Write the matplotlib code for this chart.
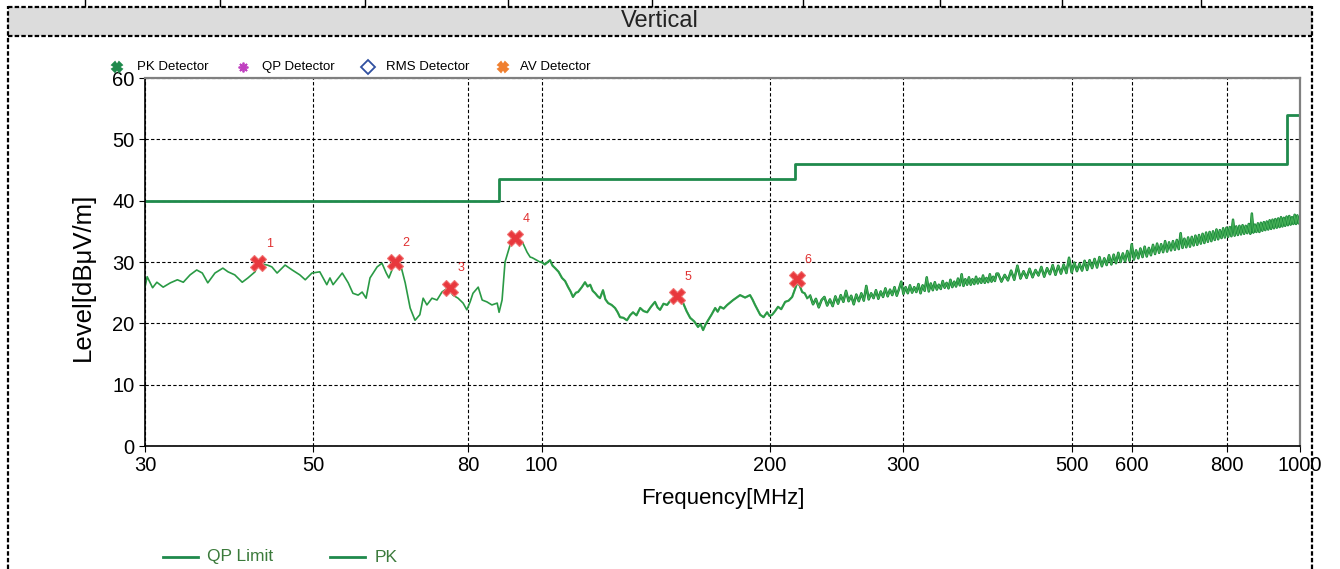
import numpy as np
import matplotlib.pyplot as plt
from matplotlib.lines import Line2D
from matplotlib.patches import Rectangle

plt.rcParams['font.family'] = ['Liberation Sans', 'DejaVu Sans']

# QP limit line (MHz, dBuV/m)
limit_freq = [30, 88, 88, 216, 216, 960, 960, 1000]
limit_level = [40, 40, 43.5, 43.5, 46, 46, 54, 54]

# PK trace, 30-100 MHz
low_freq = [30.0, 30.2, 30.7, 31.1, 31.7, 32.4, 33.1, 33.7, 34.4, 35.1,
            35.7, 36.3, 37.1, 38.0, 38.6, 39.4, 40.3, 41.0, 41.9, 42.3,
            43.5, 44.1, 44.8, 45.9, 46.9, 48.0, 48.8, 49.8, 51.0, 52.1,
            52.6, 53.1, 54.6, 55.6, 56.4, 57.3, 58.0, 58.7, 59.4, 60.7,
            61.6, 62.4, 62.9, 64.1, 65.1, 66.1, 67.1, 68.1, 69.1, 69.8,
            70.6, 71.7, 72.8, 73.9, 75.3, 76.4, 77.6, 78.8, 79.7, 80.5,
            81.2, 82.5, 83.5, 84.7, 86.0, 87.4, 87.9, 88.7, 89.5, 90.9,
            92.8, 94.3, 95.7, 96.6, 97.2, 99.5]
low_level = [25.9, 27.6, 25.8, 26.7, 25.9, 26.6, 27.1, 26.7, 27.9, 28.7,
             28.2, 26.6, 28.2, 29.0, 28.4, 27.9, 26.7, 27.4, 28.4, 29.8,
             29.5, 29.2, 28.2, 29.5, 28.7, 27.9, 27.1, 28.2, 28.4, 26.3,
             27.4, 26.3, 28.2, 26.6, 24.9, 24.6, 25.1, 24.1, 27.4, 29.2,
             29.8, 28.2, 27.4, 30.0, 29.8, 26.6, 22.5, 20.5, 21.4, 24.1,
             23.0, 24.1, 23.8, 25.1, 25.8, 24.6, 24.1, 23.3, 22.2, 23.5,
             24.9, 25.9, 23.8, 23.5, 23.0, 23.3, 21.8, 23.8, 30.0, 32.8,
             33.9, 33.3, 31.6, 30.8, 30.7, 30.0]

# 100-224 MHz
mid_freq = [100, 101, 102.6, 103.4, 104.2, 105.3, 106.4, 107.4, 108.4, 109.2,
            110, 111, 111.7, 113, 114.1, 115, 115.9, 116.8, 117.7, 118.6,
            119.4, 120.5, 121.4, 122.4, 123.7, 125, 126, 126.9, 128.2, 129.6,
            130.8, 132, 133.4, 134.9, 136.3, 137.8, 139.4, 141.1, 142.2, 143.3,
            144.8, 146.4, 147.8, 149.1, 150.9, 152.5, 153.7, 155.3, 157, 159,
            160.8, 162, 163.3, 164.5, 165.8, 167.5, 169.4, 170.7, 172, 173.8,
            175.7, 177.3, 178.9, 180.8, 182.7, 185.5, 188.3, 189.7, 191.2, 192.7,
            194.2, 196.2, 198.3, 199.8, 201.4, 203.2, 205, 207, 209.5, 211.7,
            214, 215.6, 217.3, 218.9, 220.6, 222.3, 224]
mid_level = [30.0, 29.6, 30.3, 29.4, 29.0, 28.4, 27.4, 26.9, 25.9, 25.2,
             24.3, 25.0, 25.1, 25.9, 26.7, 26.0, 26.3, 25.3, 24.9, 24.4,
             24.1, 25.4, 23.9, 23.3, 23.0, 22.5, 21.8, 21.0, 20.9, 20.5,
             21.3, 21.8, 21.3, 22.5, 22.0, 21.8, 22.7, 23.5, 22.6, 22.2,
             23.2, 23.0, 23.7, 23.8, 24.3, 24.0, 23.3, 22.0, 20.9, 20.3,
             19.4, 19.9, 18.9, 19.8, 20.5, 21.4, 22.5, 21.9, 22.7, 22.4,
             23.0, 23.4, 23.8, 24.2, 24.6, 24.2, 24.6, 23.9, 23.0, 22.2,
             21.4, 21.0, 21.8, 21.2, 21.4, 22.0, 22.7, 22.3, 23.5, 23.7,
             24.3, 25.4, 26.6, 26.2, 25.1, 24.9, 24.1]

# 226-398 MHz, every 2 MHz
hi1_freq = list(range(226, 399, 2))
hi1_level = [24.5, 23.1, 24.0, 22.6, 23.8, 24.3, 22.9, 23.9, 22.8, 24.4,
             23.2, 24.6, 23.5, 25.3, 23.6, 24.5, 23.1, 24.7, 23.6, 24.9,
             23.7, 26.1, 23.9, 24.9, 24.1, 25.4, 24.0, 25.2, 24.3, 25.7,
             24.4, 25.5, 24.6, 25.9, 24.5, 25.6, 26.8, 24.8, 25.9, 24.9,
             26.2, 25.0, 25.9, 25.1, 26.4, 24.9, 26.2, 25.3, 27.5, 25.2,
             26.5, 25.4, 26.7, 25.5, 26.3, 25.6, 26.9, 25.8, 26.6, 25.7,
             27.1, 25.9, 26.8, 26.0, 27.3, 26.2, 28.0, 26.1, 27.2, 26.3,
             27.5, 26.3, 27.2, 26.4, 27.6, 26.5, 27.3, 26.6, 27.8, 26.6,
             27.4, 26.7, 28.0, 26.8, 27.6, 26.9, 28.1]

# 400-1000 MHz, every 4 MHz
hi2_freq = list(range(400, 1001, 4))
hi2_level = [28.1, 26.8, 27.9, 27.0, 28.6, 27.1, 29.4, 27.3, 28.5, 27.4,
             28.9, 27.5, 28.7, 27.8, 29.2, 27.6, 29.0, 28.0, 29.5, 27.9,
             29.4, 28.1, 29.6, 28.2, 30.7, 28.3, 29.9, 28.5, 29.7, 28.6,
             30.2, 28.7, 30.3, 29.0, 30.5, 29.1, 30.8, 29.3, 30.6, 29.5,
             31.1, 29.6, 31.2, 29.8, 31.5, 30.0, 31.4, 30.1, 31.8, 30.2,
             32.9, 30.4, 31.9, 30.6, 32.2, 30.8, 32.5, 30.9, 32.3, 31.1,
             32.8, 31.3, 33.0, 31.5, 32.9, 31.6, 33.4, 31.7, 33.2, 31.9,
             33.4, 32.0, 33.6, 32.1, 34.7, 32.3, 33.8, 32.4, 34.0, 32.5,
             34.1, 32.7, 34.3, 32.8, 34.4, 33.0, 34.6, 33.1, 34.8, 33.3,
             34.9, 33.4, 35.0, 33.6, 35.3, 33.7, 35.2, 33.9, 35.5, 34.0,
             35.6, 34.1, 35.7, 34.2, 36.9, 34.3, 35.8, 34.4, 35.9, 34.5,
             36.0, 34.6, 35.9, 34.7, 36.2, 34.6, 37.9, 34.8, 36.1, 34.9,
             36.3, 34.9, 36.4, 35.1, 36.5, 35.2, 36.6, 35.3, 36.8, 35.4,
             36.9, 35.5, 37.0, 35.6, 37.1, 35.7, 37.3, 35.8, 37.2, 35.9,
             37.4, 36.0, 37.5, 36.1, 37.3, 36.2, 37.7, 36.2, 37.6, 36.3,
             37.3]

# peak markers
mk_freq = [42.3, 64.1, 75.8, 92.2, 150.9, 217.3]
mk_level = [29.8, 30.0, 25.8, 33.9, 24.4, 27.2]
mk_label = ['1', '2', '3', '4', '5', '6']

x_ticks = [30, 50, 80, 100, 200, 300, 500, 600, 800, 1000]
y_ticks = [0, 10, 20, 30, 40, 50, 60]

pk_freq = np.concatenate([low_freq, mid_freq, hi1_freq, hi2_freq])
pk_level = np.concatenate([low_level, mid_level, hi1_level, hi2_level])
hi_freq = np.concatenate([hi1_freq, hi2_freq])
hi_level = np.concatenate([hi1_level, hi2_level])

W, H = 1340, 569
fig = plt.figure(figsize=(W / 100, H / 100), dpi=100)
ax = fig.add_axes([145 / W, 1 - 446 / H, 1155 / W, 368 / H])

lim_color = '#1f8a4c'
pk_color = '#2a9a45'

ax.plot(limit_freq, limit_level, color=lim_color, lw=2)
ax.plot(mid_freq, mid_level, color=pk_color, lw=1.6, alpha=0.8)
ax.plot(pk_freq, pk_level, color=pk_color, lw=1.2)
ax.plot(hi_freq, hi_level, color='#1e8c3c', lw=1.8)
ax.plot(hi_freq, hi_level, color='#4cb45c', lw=0.6)
ax.plot(mk_freq, mk_level, 'X', color='#e8383d', mec='#f07070', mew=0.8, ms=11, zorder=5)
for f, l, t in zip(mk_freq, mk_level, mk_label):
    ax.annotate(t, (f, l), xytext=(8, 14), textcoords='offset points',
                color='#e03030', fontsize=9, ha='center', va='center')

ax.set_xscale('log')
ax.set_xlim(30, 1000)
ax.set_ylim(0, 60)
ax.set_xticks(x_ticks)
ax.set_xticklabels([str(t) for t in x_ticks])
ax.xaxis.set_minor_locator(plt.NullLocator())
ax.set_yticks(y_ticks)
ax.tick_params(labelsize=14.5, length=4, width=0.8)
ax.grid(True, color='black', ls=(0, (3, 2)), lw=0.8)
for s in ['left', 'bottom']:
    ax.spines[s].set_color('black')
    ax.spines[s].set_linewidth(1.2)
for s in ['top', 'right']:
    ax.spines[s].set_color('#808080')
    ax.spines[s].set_linewidth(1.6)
ax.set_xlabel('Frequency[MHz]', fontsize=16, labelpad=9)
ax.set_ylabel('Level[dBμV/m]', fontsize=18.5)
ax.yaxis.set_label_coords(-0.043, 0.46)

# title band and dashed frame
fig.add_artist(Rectangle((8 / W, 1 - 36 / H), 1304 / W, 29 / H,
                         transform=fig.transFigure, facecolor='#dcdcdc', edgecolor='none'))
fig.text(660 / W, 1 - 21 / H, 'Vertical', fontsize=17, ha='center', va='center',
         color='#222222')
dash = dict(transform=fig.transFigure, color='black', lw=1.6, ls=(0, (2, 1)))
fig.add_artist(Line2D([8 / W, 1312 / W], [1 - 7 / H] * 2, **dash))
fig.add_artist(Line2D([8 / W, 1312 / W], [1 - 36 / H] * 2, **dash))
fig.add_artist(Line2D([8 / W] * 2, [0, 1 - 6 / H], **dash))
fig.add_artist(Line2D([1312 / W] * 2, [0, 1 - 6 / H], **dash))
for xs in [85, 220, 365, 508, 652, 803, 940, 1062, 1201]:
    fig.add_artist(Line2D([xs / W] * 2, [1 - 6 / H, 1], transform=fig.transFigure,
                          color='black', lw=1))

# detector legend on top
det = [('PK Detector', 'X', '#1f8a4c', '#1f8a4c', 117, 137),
       ('QP Detector', (8, 2, 0), '#c040c0', '#c040c0', 243, 262),
       ('RMS Detector', 'D', 'white', '#3050a0', 368, 386),
       ('AV Detector', 'X', '#f08030', '#f08030', 503, 520)]
ty = 1 - 67 / H
for name, m, fc, ec, mx, tx in det:
    fig.add_artist(Line2D([mx / W], [ty], transform=fig.transFigure, marker=m, ms=7,
                          mfc=fc, mec=ec, mew=1.3, ls='none'))
    fig.text(tx / W, ty, name, fontsize=9.5, va='center', ha='left')

# line legend at the bottom
by = 1 - 557 / H
for name, x0, tx in [('QP Limit', 163, 207), ('PK', 330, 375)]:
    fig.add_artist(Line2D([x0 / W, (x0 + 35) / W], [by] * 2, transform=fig.transFigure,
                          color=lim_color, lw=2))
    fig.text(tx / W, by, name, fontsize=12.5, va='center', ha='left', color='#3b7a3b')

fig.savefig('out.png', dpi=100)
